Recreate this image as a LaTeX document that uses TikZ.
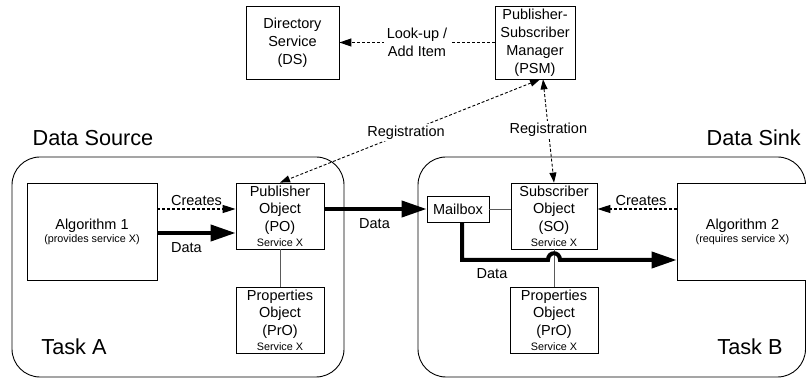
\documentclass[tikz,border=0pt]{standalone}
\usepackage{fontspec}
\setmainfont{Liberation Sans}
\usetikzlibrary{arrows.meta,calc}
\newcommand\boxfont{\fontsize{14.5}{18}\selectfont}
\newcommand\smlfont{\fontsize{10.8}{13}\selectfont}
\newcommand\bigfont{\fontsize{21.7}{26}\selectfont}
\definecolor{linegray}{RGB}{90,90,90}
\tikzset{
  box/.style={draw=black, line width=0.8pt, fill=white, align=center, inner sep=0pt, font=\boxfont},
  container/.style={draw=black, line width=0.9pt, rounded corners=28pt},
  lbl/.style={font=\boxfont, inner sep=2pt, align=center},
  biglbl/.style={font=\bigfont, inner sep=0pt},
  thinlink/.style={draw=linegray, line width=0.8pt},
  creates/.style={line width=1.3pt, dash pattern=on 3pt off 2pt, -{Triangle[length=13pt,width=8pt]}},
  reg/.style={line width=0.9pt, dash pattern=on 3pt off 2pt, {Triangle[length=10pt,width=7pt]}-{Triangle[length=10pt,width=7pt]}},
  lookup/.style={line width=1.1pt, dash pattern=on 3pt off 2pt, -{Triangle[length=12pt,width=8pt]}},
  dataflow/.style={line width=4pt, -{Triangle[length=25pt,width=16pt]}},
}
\begin{document}
\begin{tikzpicture}[x=1pt,y=-1pt]
\useasboundingbox (0,0) rectangle (806,379);
\clip (0,0) rectangle (806,379);
% containers
\draw[container] (12,157) rectangle (344,377);
\draw[container] (418,157) rectangle (805.5,377);
\node[biglbl] (dsrc) at (93,138) {Data Source};
\node[biglbl, anchor=east] (dsink) at (801,138) {Data Sink};
\node[biglbl] (taska) at (74,347) {Task A};
\node[biglbl] (taskb) at (750,347) {Task B};
% boxes
\node[box, minimum width=93pt, minimum height=73pt] (ds) at (292.5,42.5) {Directory\\Service\\(DS)};
\node[box, minimum width=80pt, minimum height=73pt] (psm) at (535,42.5) {Publisher-\\Subscriber\\Manager\\(PSM)};
\node[box, minimum width=130pt, minimum height=97pt] (alg1) at (92,231.5) {Algorithm 1\\[-5pt]{\smlfont (provides service X)}};
\node[box, minimum width=88pt, minimum height=66pt] (po) at (280,216) {Publisher\\[-0.5pt]Object\\[-0.5pt](PO)\\[-3pt]{\smlfont Service X}};
\node[box, minimum width=88pt, minimum height=66pt] (pro1) at (280,320) {Properties\\[-0.5pt]Object\\[-0.5pt](PrO)\\[-3pt]{\smlfont Service X}};
\node[box, minimum width=62pt, minimum height=26pt] (mb) at (458,209) {Mailbox};
\node[box, minimum width=86pt, minimum height=66pt] (so) at (554,216) {Subscriber\\[-0.5pt]Object\\[-0.5pt](SO)\\[-3pt]{\smlfont Service X}};
\node[box, minimum width=88pt, minimum height=66pt] (pro2) at (554,320) {Properties\\[-0.5pt]Object\\[-0.5pt](PrO)\\[-3pt]{\smlfont Service X}};
\node[box, minimum width=131pt, minimum height=97pt] (alg2) at (742.5,231.5) {Algorithm 2\\[-5pt]{\smlfont (requires service X)}};
% thin links
\draw[thinlink] (po.south) -- (pro1.north);
\draw[thinlink] (mb.east) -- (mb.east -| so.west);
\draw[thinlink] (so.south) -- (pro2.north);
% creates arrows
\coordinate (poC) at ([yshift=7pt]po.west);
\coordinate (poD) at ([yshift=-17pt]po.west);
\coordinate (poE) at ([yshift=7pt]po.east);
\coordinate (soC) at ([yshift=7pt]so.east);
\draw[creates] (alg1.east |- poC) -- node[lbl, above=1pt] {Creates} (poC);
\draw[dataflow] (alg1.east |- poD) -- node[lbl, below=6pt, xshift=-10pt] {Data} (poD);
\draw[dataflow] (poE) -- node[lbl, below=6pt, xshift=-1pt] {Data} (mb.west);
\draw[creates] (alg2.west |- soC) -- node[lbl, above=1pt, xshift=4pt] {Creates} (soC);
% mailbox data path with hop
\coordinate (mbD) at ([xshift=4pt]mb.south);
\coordinate (hop) at (so.south |- 0,260);
\draw[dataflow] (mbD) |- ($(hop)+(-6,0)$) .. controls ($(hop)+(-6,-9)$) and ($(hop)+(6,-9)$) .. ($(hop)+(6,0)$) -- (alg2.west |- hop);
\node[lbl] (dlab) at (492,274) {Data};
% registration
\draw[reg] ([xshift=5pt]psm.south) -- node[lbl, fill=white, pos=0.515] {Registration} (po.north);
\draw[reg] ([xshift=8pt]psm.south) -- node[lbl, fill=white, pos=0.49] {Registration} (so.north);
% look-up
\draw[lookup] (psm.west) -- node[lbl, fill=white, inner sep=3pt] {Look-up /\\Add Item} (ds.east);
\end{tikzpicture}
\end{document}
